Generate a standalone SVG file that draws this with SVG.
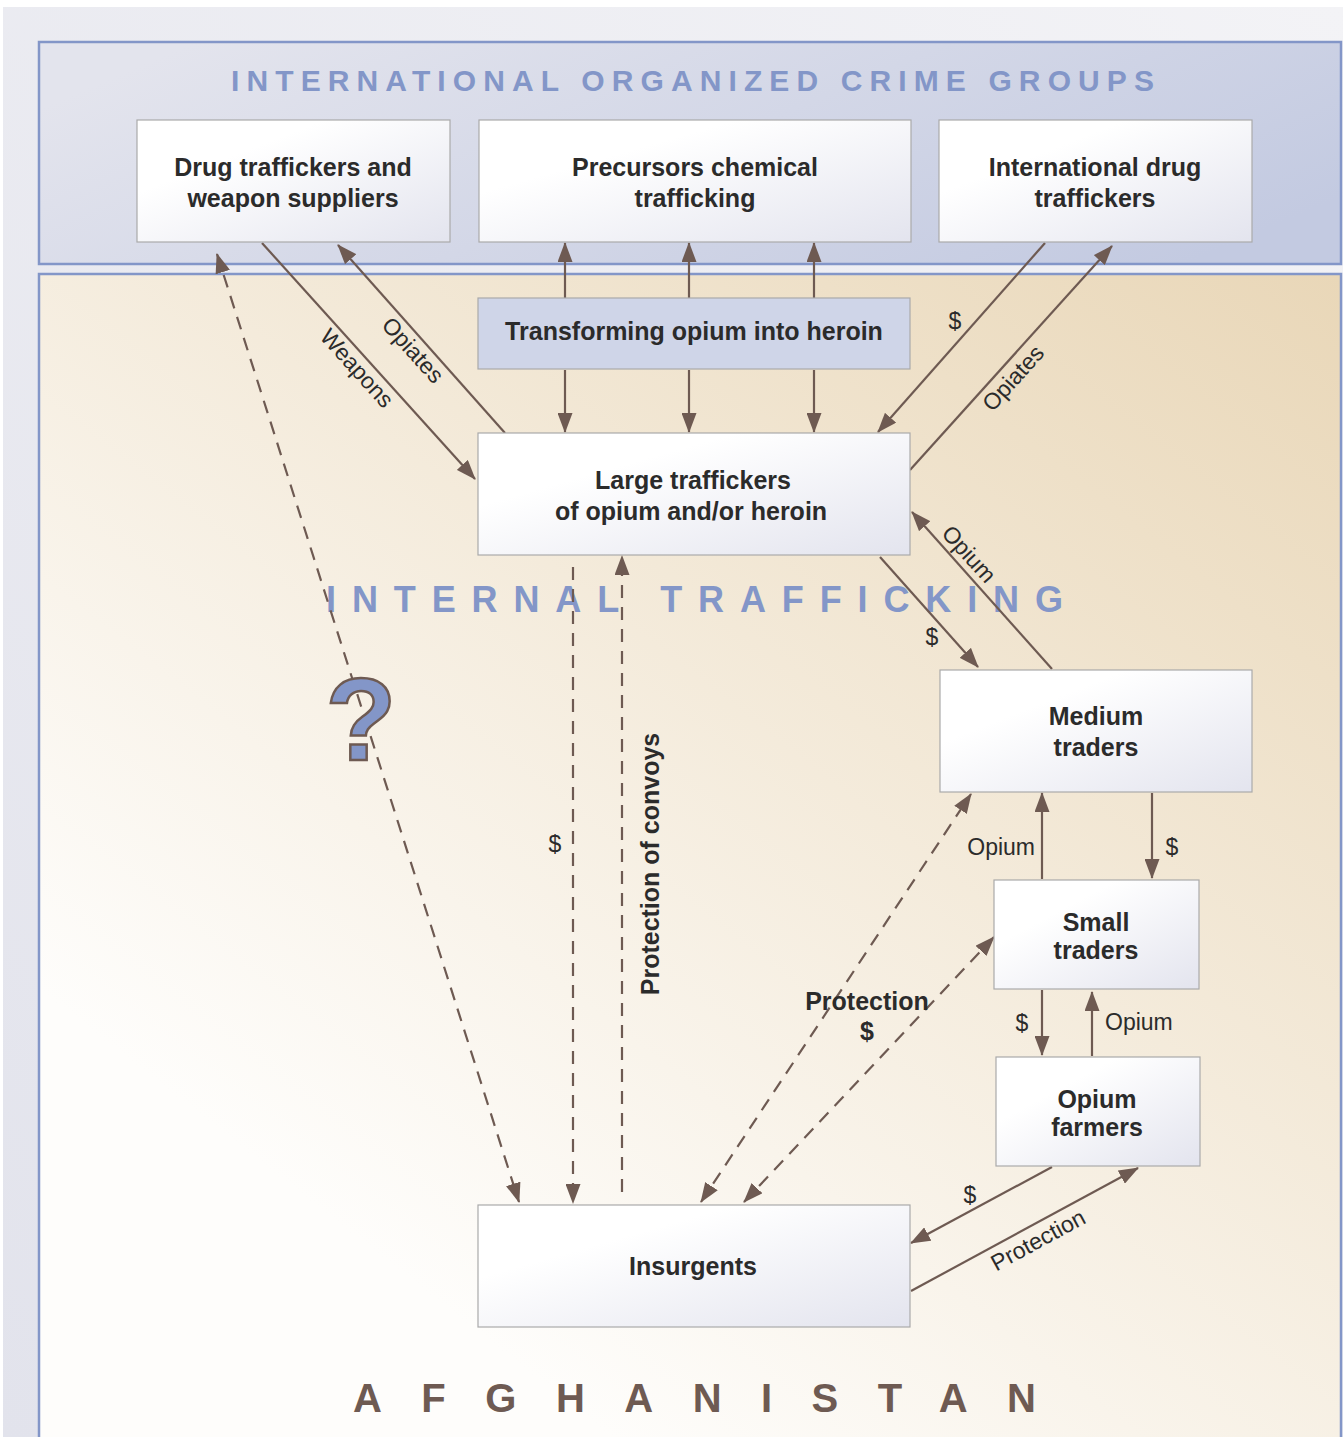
<svg xmlns="http://www.w3.org/2000/svg" width="1343" height="1437" viewBox="0 0 1343 1437">
<defs>
<style>
.node rect{stroke:#aaaaaa;stroke-width:1.2}
.nt{font-family:"Liberation Sans",Arial,sans-serif;font-weight:bold;font-size:25px;fill:#2b2b2b;text-anchor:middle}
.lbl{font-family:"Liberation Sans",Arial,sans-serif;font-size:23px;fill:#2b2b2b}
.lblb{font-family:"Liberation Sans",Arial,sans-serif;font-size:25px;font-weight:bold;fill:#2b2b2b}
.ln{stroke:#6e5a52;stroke-width:2.2;fill:none}
.dash{stroke-dasharray:13 9}
.title{font-family:"Liberation Sans",Arial,sans-serif;font-weight:bold;fill:#8396c8}
</style>
<linearGradient id="pageBg" x1="0" y1="1" x2="1" y2="0">
<stop offset="0" stop-color="#e2e3ec"/><stop offset="1" stop-color="#f3f3f6"/>
</linearGradient>
<linearGradient id="topBg" x1="0" y1="0.3" x2="1" y2="0.7">
<stop offset="0" stop-color="#e3e4ed"/><stop offset="1" stop-color="#c3cae1"/>
</linearGradient>
<linearGradient id="afgBg" gradientUnits="userSpaceOnUse" x1="1340" y1="275" x2="500" y2="1350">
<stop offset="0" stop-color="#e9d7b8"/><stop offset="1" stop-color="#fefdfb"/>
</linearGradient>
<linearGradient id="nodeFill" x1="0" y1="0" x2="1" y2="1">
<stop offset="0.3" stop-color="#ffffff"/><stop offset="1" stop-color="#e3e4ee"/>
</linearGradient>
<marker id="ah" viewBox="0 0 20 15" refX="19" refY="7.5" markerWidth="20" markerHeight="15" markerUnits="userSpaceOnUse" orient="auto-start-reverse">
<path d="M0,0 L20,7.5 L0,15 z" fill="#6e5a52"/>
</marker>
</defs>

<rect x="0" y="0" width="1343" height="1437" fill="#ffffff"/>
<rect x="3" y="7" width="1340" height="1430" fill="url(#pageBg)"/>

<g id="region-international">
<rect x="39" y="42" width="1302" height="222" fill="url(#topBg)" stroke="#8396c8" stroke-width="2.5"/>
<text class="title" x="231" y="91" font-size="30" textLength="923" lengthAdjust="spacing">INTERNATIONAL ORGANIZED CRIME GROUPS</text>
</g>

<g id="region-afghanistan">
<path d="M39,1437 L39,274 L1341,274 L1341,1437" fill="url(#afgBg)" stroke="#8396c8" stroke-width="2.5"/>
<text class="title" x="326" y="612" font-size="36" textLength="737" lengthAdjust="spacing">INTERNAL TRAFFICKING</text>
<text x="353" y="1412" font-family="Liberation Sans,Arial,sans-serif" font-weight="bold" font-size="40" fill="#6e5a52" textLength="683" lengthAdjust="spacing">AFGHANISTAN</text>
</g>

<g id="connectors">
<line class="ln" x1="262" y1="243" x2="475" y2="479" marker-end="url(#ah)"/>
<line class="ln" x1="505" y1="433" x2="338" y2="245" marker-end="url(#ah)"/>
<line class="ln dash" x1="217" y1="254" x2="519" y2="1202" marker-start="url(#ah)" marker-end="url(#ah)"/>
<line class="ln" x1="565" y1="298" x2="565" y2="243" marker-end="url(#ah)"/>
<line class="ln" x1="689" y1="298" x2="689" y2="243" marker-end="url(#ah)"/>
<line class="ln" x1="814" y1="298" x2="814" y2="243" marker-end="url(#ah)"/>
<line class="ln" x1="565" y1="370" x2="565" y2="432" marker-end="url(#ah)"/>
<line class="ln" x1="689" y1="370" x2="689" y2="432" marker-end="url(#ah)"/>
<line class="ln" x1="814" y1="370" x2="814" y2="432" marker-end="url(#ah)"/>
<line class="ln" x1="1045" y1="243" x2="878" y2="432" marker-end="url(#ah)"/>
<line class="ln" x1="910" y1="470" x2="1112" y2="246" marker-end="url(#ah)"/>
<line class="ln" x1="1052" y1="669" x2="912" y2="512" marker-end="url(#ah)"/>
<line class="ln" x1="880" y1="557" x2="978" y2="667" marker-end="url(#ah)"/>
<line class="ln dash" x1="573" y1="567" x2="573" y2="1203" marker-end="url(#ah)"/>
<line class="ln dash" x1="622" y1="1192" x2="622" y2="556" marker-end="url(#ah)"/>
<line class="ln" x1="1042" y1="879" x2="1042" y2="793" marker-end="url(#ah)"/>
<line class="ln" x1="1152" y1="793" x2="1152" y2="878" marker-end="url(#ah)"/>
<line class="ln" x1="1042" y1="990" x2="1042" y2="1055" marker-end="url(#ah)"/>
<line class="ln" x1="1092" y1="1056" x2="1092" y2="992" marker-end="url(#ah)"/>
<line class="ln dash" x1="701" y1="1202" x2="971" y2="794" marker-start="url(#ah)" marker-end="url(#ah)"/>
<line class="ln dash" x1="744" y1="1202" x2="994" y2="937" marker-start="url(#ah)" marker-end="url(#ah)"/>
<line class="ln" x1="1052" y1="1167" x2="911" y2="1243" marker-end="url(#ah)"/>
<line class="ln" x1="911" y1="1291" x2="1138" y2="1168" marker-end="url(#ah)"/>

<text class="lbl" text-anchor="middle" transform="translate(357,368) rotate(48)" y="8">Weapons</text>
<text class="lbl" text-anchor="middle" transform="translate(413,350) rotate(48)" y="8">Opiates</text>
<text class="lbl" text-anchor="middle" x="955" y="329">$</text>
<text class="lbl" text-anchor="middle" transform="translate(1013,378) rotate(-48)" y="8">Opiates</text>
<text class="lbl" text-anchor="middle" transform="translate(969,554) rotate(48)" y="8">Opium</text>
<text class="lbl" text-anchor="middle" x="932" y="645">$</text>
<text class="lbl" text-anchor="middle" x="555" y="852">$</text>
<text class="lblb" text-anchor="middle" transform="translate(650,864) rotate(-90)" y="9">Protection of convoys</text>
<text class="lbl" text-anchor="end" x="1035" y="855">Opium</text>
<text class="lbl" text-anchor="middle" x="1172" y="855">$</text>
<text class="lbl" text-anchor="middle" x="1022" y="1031">$</text>
<text class="lbl" x="1105" y="1030">Opium</text>
<text class="lblb" text-anchor="middle" x="867" y="1010">Protection</text>
<text class="lblb" text-anchor="middle" x="867" y="1040">$</text>
<text class="lbl" text-anchor="middle" x="970" y="1203">$</text>
<text class="lbl" text-anchor="middle" transform="translate(1038,1240) rotate(-28.4)" y="8">Protection</text>
<text x="361" y="760" font-family="Liberation Sans,Arial,sans-serif" font-weight="bold" font-size="116" fill="#8396c8" stroke="#6e5a52" stroke-width="2.5" text-anchor="middle">?</text>
</g>

<g id="node-drug-traffickers" class="node">
<rect x="137" y="120" width="313" height="122" fill="url(#nodeFill)"/>
<text class="nt" x="293" y="176">Drug traffickers and</text>
<text class="nt" x="293" y="207">weapon suppliers</text>
</g>
<g id="node-precursors" class="node">
<rect x="479" y="120" width="432" height="122" fill="url(#nodeFill)"/>
<text class="nt" x="695" y="176">Precursors chemical</text>
<text class="nt" x="695" y="207">trafficking</text>
</g>
<g id="node-international-drug" class="node">
<rect x="939" y="120" width="313" height="122" fill="url(#nodeFill)"/>
<text class="nt" x="1095" y="176">International drug</text>
<text class="nt" x="1095" y="207">traffickers</text>
</g>
<g id="node-transforming" class="node">
<rect x="478" y="298" width="432" height="71" fill="#cfd5e8"/>
<text class="nt" x="694" y="340">Transforming opium into heroin</text>
</g>
<g id="node-large-traffickers" class="node">
<rect x="478" y="433" width="432" height="122" fill="url(#nodeFill)"/>
<text class="nt" x="693" y="489">Large traffickers</text>
<text class="nt" x="691" y="520">of opium and/or heroin</text>
</g>
<g id="node-medium-traders" class="node">
<rect x="940" y="670" width="312" height="122" fill="url(#nodeFill)"/>
<text class="nt" x="1096" y="725">Medium</text>
<text class="nt" x="1096" y="756">traders</text>
</g>
<g id="node-small-traders" class="node">
<rect x="994" y="880" width="205" height="109" fill="url(#nodeFill)"/>
<text class="nt" x="1096" y="931">Small</text>
<text class="nt" x="1096" y="959">traders</text>
</g>
<g id="node-opium-farmers" class="node">
<rect x="996" y="1057" width="204" height="109" fill="url(#nodeFill)"/>
<text class="nt" x="1097" y="1108">Opium</text>
<text class="nt" x="1097" y="1136">farmers</text>
</g>
<g id="node-insurgents" class="node">
<rect x="478" y="1205" width="432" height="122" fill="url(#nodeFill)"/>
<text class="nt" x="693" y="1275">Insurgents</text>
</g>
</svg>
